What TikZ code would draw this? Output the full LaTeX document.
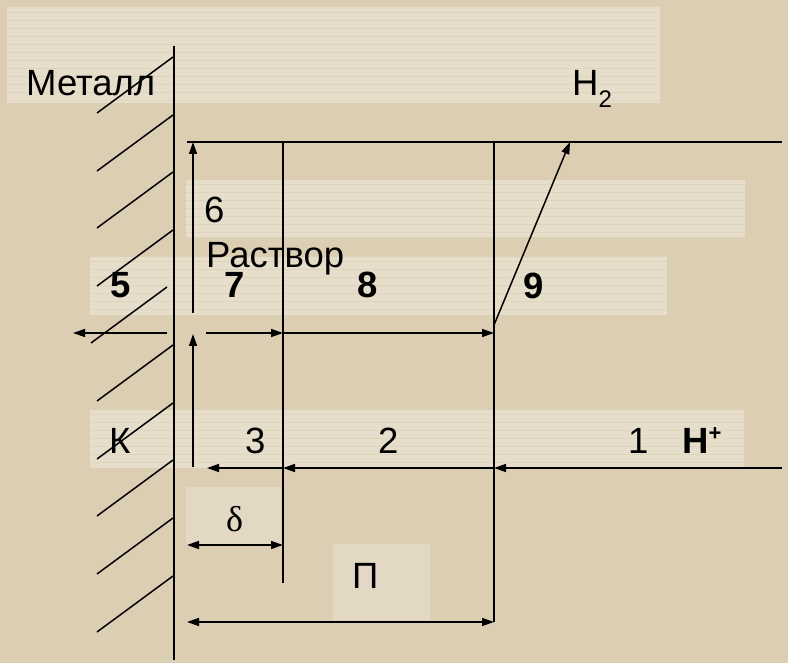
\documentclass[tikz,border=0pt]{standalone}
\usepackage{fontspec}
\setmainfont{Liberation Sans}
\newfontfamily\seriffont{Liberation Serif}
\usetikzlibrary{arrows.meta}
\definecolor{bgbase}{HTML}{DBCEB3}
\definecolor{bgband}{HTML}{E6DDCA}
\definecolor{bgpatch}{HTML}{E2D8C4}
\tikzset{
  ln/.style={line width=1.5pt, black},
  arr/.style={ln, -{Triangle[length=12pt,width=8pt]}},
  darr/.style={ln, {Triangle[length=12pt,width=8pt]}-{Triangle[length=12pt,width=8pt]}},
  lbl/.style={anchor=base west, inner sep=0pt, font=\fontsize{36.5}{40}\selectfont},
  blbl/.style={lbl, font=\fontsize{36.5}{40}\selectfont\bfseries},
  band/.style={fill=bgband, draw=none},
}
\begin{document}
\begin{tikzpicture}[x=1pt,y=-1pt]
\useasboundingbox (0,0) rectangle (788,663);
\fill[bgbase] (0,0) rectangle (788,663);
% lighter bands
\fill[band] (7,7) rectangle (660,103);
\fill[band] (186,180) rectangle (745,237);
\fill[band] (90,257) rectangle (667,315);
\fill[band] (90,410) rectangle (744,468);
\fill[bgpatch] (186,487) rectangle (281,545);
\fill[bgpatch] (333,544) rectangle (430,620);
% faint stripes inside bands
\foreach \y in {12,20,...,100} \draw[bgbase!60!bgband, line width=0.6pt] (7,\y) -- (660,\y);
\foreach \y in {184,192,...,234} \draw[bgbase!60!bgband, line width=0.6pt] (186,\y) -- (745,\y);
\foreach \y in {261,269,...,312} \draw[bgbase!60!bgband, line width=0.6pt] (90,\y) -- (667,\y);
\foreach \y in {414,422,...,465} \draw[bgbase!60!bgband, line width=0.6pt] (90,\y) -- (744,\y);

% coordinates
\coordinate (wt) at (174,46);
\coordinate (wb) at (174,660);
\coordinate (tl) at (187,142);
\coordinate (tr) at (782,142);
\coordinate (v1t) at (283,142);
\coordinate (v1b) at (283,583);
\coordinate (v2t) at (494,142);
\coordinate (v2b) at (494,622);
\coordinate (a6s) at (193,313);
\coordinate (a6e) at (193,142);
\coordinate (alS) at (193,467);
\coordinate (alE) at (193,334);
\coordinate (l5s) at (167,333);
\coordinate (l5e) at (73,333);
\coordinate (m7s) at (206,333);
\coordinate (m7e) at (283,333);
\coordinate (m8e) at (494,333);
\coordinate (s9s) at (494,325);
\coordinate (s9e) at (570,142);
\coordinate (r1s) at (782,468);
\coordinate (r1e) at (494,468);
\coordinate (r2e) at (283,468);
\coordinate (r3e) at (207,468);
\coordinate (dl) at (187,545);
\coordinate (dr) at (283,545);
\coordinate (pl) at (187,622);
\coordinate (pr) at (494,622);

% wall and hatching
\draw[ln] (wt) -- (wb);
\foreach \y in {57,115,172,230,345,403,460,518,576}
  \draw[ln] (173,\y) -- (97,\y+56);
\draw[ln] (167,287) -- (91,343);

% frame lines
\draw[ln] (tl) -- (tr);
\draw[ln] (v1t) -- (v1b);
\draw[ln] (v2t) -- (v2b);

% arrows
\draw[arr] (a6s) -- (a6e);
\draw[arr] (alS) -- (alE);
\draw[arr] (l5s) -- (l5e);
\draw[arr] (m7s) -- (m7e);
\draw[arr] (m7e) -- (m8e);
\draw[arr] (s9s) -- (s9e);
\draw[arr] (r1s) -- (r1e);
\draw[arr] (r1e) -- (r2e);
\draw[arr] (r2e) -- (r3e);
\draw[darr] (dl) -- (dr);
\draw[darr] (pl) -- (pr);

% labels
\node[lbl] (metal) at (26,96) {Металл};
\node[lbl] (h2) at (572,96) {H\raisebox{-12pt}{\fontsize{24}{26}\selectfont 2}};
\node[lbl] (six) at (204,223) {6};
\node[lbl] (rast) at (206,268) {Раствор};
\node[blbl] (five) at (110,298) {5};
\node[blbl] (seven) at (224,298) {7};
\node[blbl] (eight) at (357,298) {8};
\node[blbl] (nine) at (523,299) {9};
\node[lbl] (k) at (109,453) {К};
\node[lbl] (three) at (245,453) {3};
\node[lbl] (two) at (378,453) {2};
\node[lbl] (one) at (628,453) {1};
\node[blbl] (hplus) at (682,453) {H\raisebox{13pt}{\fontsize{22}{24}\selectfont\bfseries +}};
\node[anchor=base west, inner sep=0pt, font=\seriffont\fontsize{36}{40}\selectfont] (delta) at (226,531) {δ};
\node[lbl] (pi) at (352,588) {П};
\end{tikzpicture}
\end{document}
